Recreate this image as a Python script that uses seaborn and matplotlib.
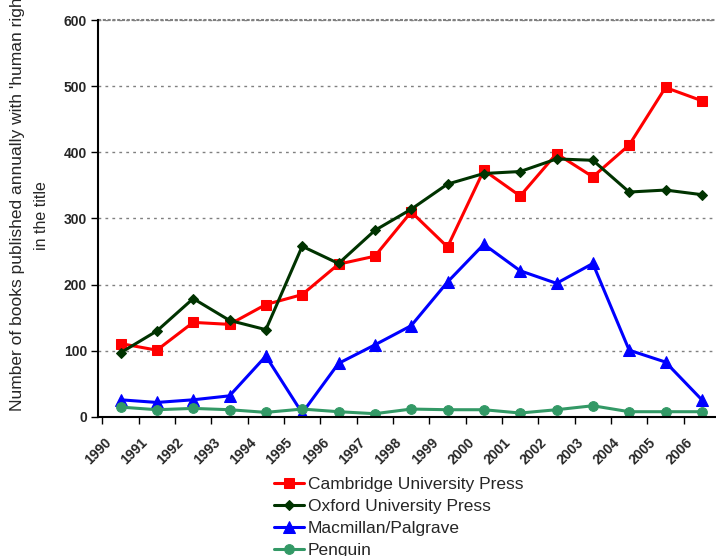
import numpy as np
import pandas as pd
import matplotlib
matplotlib.use('Agg')
import matplotlib.pyplot as plt
import seaborn as sns

years = list(range(1990, 2007))
cambridge = [111, 101, 143, 140, 170, 185, 231, 243, 310, 257, 373, 334, 398, 363, 411, 498, 478]
oxford = [97, 130, 179, 146, 132, 258, 232, 282, 314, 352, 368, 371, 390, 388, 340, 343, 336]
macmillan = [26, 22, 26, 32, 92, 6, 81, 109, 138, 204, 261, 221, 202, 232, 101, 83, 26]
penguin = [15, 11, 13, 11, 7, 12, 8, 5, 12, 11, 11, 6, 11, 17, 8, 8, 8]

series = [
    ('Cambridge University Press', cambridge, '#FF0000', 's', 7.5),
    ('Oxford University Press', oxford, '#003300', 'D', 5.5),
    ('Macmillan/Palgrave', macmillan, '#0000FF', '^', 8),
    ('Penguin', penguin, '#339966', 'o', 7),
]

sns.set_style('white')
plt.rcParams['font.family'] = ['Liberation Sans', 'DejaVu Sans']

fig = plt.figure(figsize=(7.16, 5.56), dpi=100)
ax = fig.add_axes([98/716, 1 - 417/556, 622/716, 397/556])

xpos = np.arange(len(years)) + 0.5
for name, vals, col, mk, ms in series:
    sns.lineplot(x=xpos, y=vals, ax=ax, color=col, marker=mk, markersize=ms,
                 markeredgecolor=col, linewidth=2.2, label=name)

ax.set_xlim(0, len(years))
ax.set_ylim(0, 600)
ax.set_yticks(range(0, 601, 100))
ax.set_xticks(np.arange(len(years) + 1))
ax.set_xticklabels([])
ax.set_xticks(np.arange(len(years)) - 0.12, labels=[str(y) for y in years], minor=True)
ax.tick_params(axis='x', which='major', length=5, width=1, color='black', direction='out', bottom=True)
ax.tick_params(axis='x', which='minor', length=0, pad=13)
for lbl in ax.get_xticklabels(minor=True):
    lbl.set_rotation(45)
    lbl.set_ha('center')
    lbl.set_va('top')
    lbl.set_fontweight('bold')
    lbl.set_fontsize(10)
ax.tick_params(axis='y', length=5, width=1, color='black', direction='out', left=True, pad=3,
               labelsize=10)
for lbl in ax.get_yticklabels():
    lbl.set_fontweight('bold')

ax.grid(axis='y', color='#808080', linestyle=(0, (2, 3)), linewidth=1)
ax.grid(axis='x', visible=False)
ax.axhline(600, color='#808080', linestyle=(0, (1.5, 0.8)), linewidth=1.5, clip_on=False)
for s in ['top', 'right']:
    ax.spines[s].set_visible(False)
for s in ['left', 'bottom']:
    ax.spines[s].set_color('black')
    ax.spines[s].set_linewidth(1.5)

# axis title, two lines as Excel wrapped it
fig.text(18/716, 1 - 411/556, "Number of books published annually with 'human rights'",
         rotation=90, ha='center', va='bottom', fontsize=12.5)
fig.text(42/716, 1 - 216/556, "in the title",
         rotation=90, ha='center', va='center', fontsize=11.5)

handles, labels = ax.get_legend_handles_labels()
ax.get_legend().remove()
fig.legend(handles, labels, loc='upper left', bbox_to_anchor=(267/716, 1 - 470/556),
           frameon=False, fontsize=12.5, handlelength=1.75, handletextpad=0.2,
           labelspacing=0.4, borderaxespad=0)

fig.savefig('out.png', dpi=100)
